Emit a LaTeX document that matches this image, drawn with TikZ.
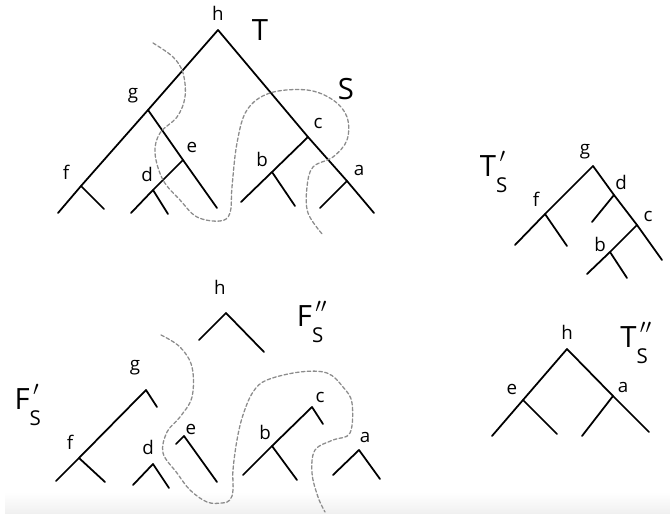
\documentclass[tikz,border=0pt]{standalone}
\usepackage{amsmath}
\usepackage{fontspec}
\setmainfont{Open Sans}

\newcommand{\subs}[2]{$\text{#1}^{\,#2}_{\raisebox{-0.3em}{$\scriptstyle\text{S}$}}$}

\begin{document}
\begin{tikzpicture}[
  x=0.03cm,y=-0.03cm,line cap=round,line join=round,
  br/.style={line width=1.5pt},
  cut/.style={black!45,line width=1.1pt,dash pattern=on 3pt off 2pt},
  lbl/.style={inner sep=0pt,font=\fontsize{16}{16}\selectfont},
  big/.style={inner sep=0pt,font=\fontsize{25}{25}\selectfont}
]
\useasboundingbox (0,0) rectangle (670,514);
\shade[top color=white,bottom color=black!6] (5,492) rectangle (670,514);

% T
\coordinate (hT) at (218,30);
\coordinate (gT) at (148,110);
\coordinate (fT) at (81,186);
\coordinate (fTl) at (58,213);
\coordinate (fTr) at (104,209);
\coordinate (eT) at (183,160);
\coordinate (eTr) at (217,208);
\coordinate (dT) at (153,190);
\coordinate (dTl) at (131,213);
\coordinate (dTr) at (168,214);
\coordinate (cT) at (308,137);
\coordinate (bT) at (272,172);
\coordinate (bTl) at (241,202);
\coordinate (bTr) at (295,206);
\coordinate (aT) at (347,181);
\coordinate (aTl) at (320,208);
\coordinate (aTr) at (374,213);
\draw[br] (fTl) -- (fT) -- (gT) -- (hT) -- (cT) -- (aT) -- (aTr);
\draw[br] (gT) -- (eT) -- (eTr);
\draw[br] (eT) -- (dT) -- (dTl);
\draw[br] (dT) -- (dTr);
\draw[br] (fT) -- (fTr);
\draw[br] (cT) -- (bT) -- (bTl);
\draw[br] (bT) -- (bTr);
\draw[br] (aT) -- (aTl);
\node[lbl] (lhT) at (218,13) {h};
\node[big] (lT) at (260,30) {T};
\node[lbl] (lgT) at (133,96) {g};
\node[lbl] (leT) at (192,147) {e};
\node[lbl] (ldT) at (147,174) {d};
\node[lbl] (lfT) at (66,172) {f};
\node[lbl] (lbT) at (262,159) {b};
\node[lbl] (lcT) at (318,123) {c};
\node[lbl] (laT) at (359,170) {a};
\node[big] (lS) at (346,89) {S};
\draw[cut] plot[smooth,tension=0.6] coordinates {(153,43) (173,57) (183,73) (185,97)
  (177,117) (160,133) (155,153) (163,180) (180,200) (197,217) (220,221) (230,213)
  (232,187) (237,143) (247,110) (270,93) (307,90) (333,100) (347,117) (347,140)
  (333,157) (313,167) (307,187) (308,213) (323,235)};

% T'_S
\coordinate (gP) at (593,166);
\coordinate (fP) at (545,214);
\coordinate (fPl) at (515,245);
\coordinate (fPr) at (567,246);
\coordinate (dP) at (614,195);
\coordinate (dPl) at (592,222);
\coordinate (cP) at (637,225);
\coordinate (cPr) at (662,260);
\coordinate (bP) at (610,252);
\coordinate (bPl) at (587,274);
\coordinate (bPr) at (627,278);
\draw[br] (fPl) -- (fP) -- (gP) -- (dP) -- (cP) -- (cPr);
\draw[br] (fP) -- (fPr);
\draw[br] (dP) -- (dPl);
\draw[br] (cP) -- (bP) -- (bPl);
\draw[br] (bP) -- (bPr);
\node[lbl] (lgP) at (585,152) {g};
\node[lbl] (lfP) at (536,199) {f};
\node[lbl] (ldP) at (621,182) {d};
\node[lbl] (lcP) at (648,216) {c};
\node[lbl] (lbP) at (600,244) {b};
\node[big] (lTP) at (494,172) {\subs{T}{\prime}};

% F'_S and F''_S
\coordinate (hL) at (226,313);
\coordinate (hLl) at (199,340);
\coordinate (hLr) at (264,352);
\draw[br] (hLl) -- (hL) -- (hLr);
\coordinate (gL) at (146,390);
\coordinate (gLr) at (157,407);
\coordinate (fL) at (79,458);
\coordinate (fLl) at (56,481);
\coordinate (fLr) at (105,482);
\draw[br] (gLr) -- (gL) -- (fL) -- (fLl);
\draw[br] (fL) -- (fLr);
\coordinate (dL) at (153,464);
\coordinate (dLl) at (133,485);
\coordinate (dLr) at (169,488);
\draw[br] (dLl) -- (dL) -- (dLr);
\coordinate (eL) at (184,436);
\coordinate (eLl) at (176,444);
\coordinate (eLr) at (217,482);
\draw[br] (eLl) -- (eL) -- (eLr);
\coordinate (cL) at (312,407);
\coordinate (cLr) at (323,424);
\coordinate (bL) at (272,446);
\coordinate (bLl) at (243,475);
\coordinate (bLr) at (297,480);
\draw[br] (cLr) -- (cL) -- (bL) -- (bLl);
\draw[br] (bL) -- (bLr);
\coordinate (aL) at (359,450);
\coordinate (aLl) at (333,475);
\coordinate (aLr) at (380,479);
\draw[br] (aLl) -- (aL) -- (aLr);
\node[lbl] (lhL) at (220,287) {h};
\node[lbl] (lgL) at (135,368) {g};
\node[lbl] (lfL) at (70,442) {f};
\node[lbl] (ldL) at (148,447) {d};
\node[lbl] (leL) at (191,429) {e};
\node[lbl] (lcL) at (320,397) {c};
\node[lbl] (lbL) at (265,432) {b};
\node[lbl] (laL) at (365,437) {a};
\node[big] (lFP) at (28,405) {\subs{F}{\prime}};
\node[big] (lFQ) at (312,322) {\subs{F}{\prime\prime}};
\draw[cut] plot[smooth,tension=0.6] coordinates {(161,335) (180,347) (192,367) (192,397)
  (180,417) (167,432) (163,453) (177,473) (190,490) (207,502) (222,503) (230,500)
  (233,490) (233,470) (237,440) (243,415) (253,392) (267,380) (300,372) (327,373)
  (343,387) (352,403) (350,433) (333,440) (315,450) (312,473) (318,497) (325,512)};

% T''_S
\coordinate (hQ) at (567,349);
\coordinate (eQ) at (523,400);
\coordinate (eQl) at (492,436);
\coordinate (eQr) at (557,434);
\coordinate (aQ) at (613,396);
\coordinate (aQl) at (582,436);
\coordinate (aQr) at (649,432);
\draw[br] (eQl) -- (eQ) -- (hQ) -- (aQ) -- (aQr);
\draw[br] (eQ) -- (eQr);
\draw[br] (aQ) -- (aQl);
\node[lbl] (lhQ) at (567,332) {h};
\node[lbl] (leQ) at (512,389) {e};
\node[lbl] (laQ) at (623,387) {a};
\node[big] (lTQ) at (636,343) {\subs{T}{\prime\prime}};
\end{tikzpicture}
\end{document}
